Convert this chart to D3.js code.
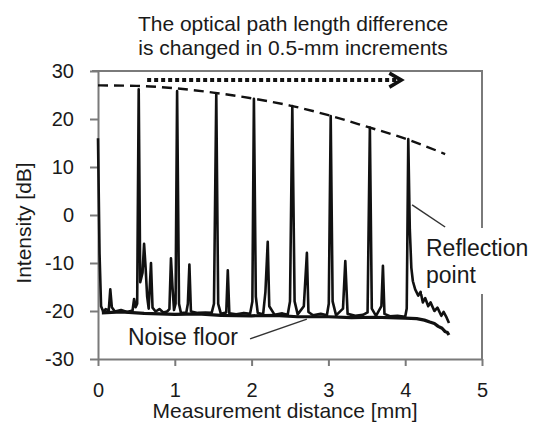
<!DOCTYPE html>
<html>
<head>
<meta charset="utf-8">
<script src="https://cdn.jsdelivr.net/npm/d3@7"></script>
<style>
  body { margin: 0; background: #fff; }
  text { font-family: "Liberation Sans", Arial, sans-serif; fill: #1a1a1a; }
</style>
</head>
<body>
<svg id="chart" width="533" height="423"></svg>
<script>
// axis ticks
const xTicks = [0, 1, 2, 3, 4, 5];
const yTicks = [-30, -20, -10, 0, 10, 20, 30];

// measured trace [distance mm, intensity dB]
const mainTrace = [
  [0, 16], [0.02, -8], [0.04, -19], [0.07, -20.2], [0.1, -19.6], [0.14, -19.9], [0.16, -15.5],
  [0.18, -19.2], [0.22, -20.1], [0.3, -19.8], [0.38, -20.2], [0.45, -19.9], [0.47, -17.5],
  [0.49, -19.2], [0.51, -18.5], [0.53, 26.2], [0.55, -14], [0.58, -12], [0.6, -6], [0.62, -11],
  [0.64, -17], [0.66, -19.5], [0.69, -10], [0.71, -19.3], [0.75, -20.1], [0.8, -19.6],
  [0.85, -20.3], [0.9, -20.1], [0.93, -19.6], [0.95, -9], [0.97, -15], [0.99, -19.8],
  [1.01, -18.5], [1.03, 25.8], [1.055, -18.5], [1.08, -20.4], [1.15, -20.3], [1.17, -18.5],
  [1.19, -10.3], [1.21, -20.1], [1.3, -20.4], [1.4, -20.3], [1.48, -20.4], [1.51, -18.5],
  [1.54, 25.2], [1.565, -18.5], [1.6, -20.6], [1.67, -20.3], [1.69, -11.5], [1.71, -20.5],
  [1.8, -20.7], [1.9, -20.4], [1.98, -20.6], [2.01, -18], [2.03, 24.2], [2.055, -17],
  [2.08, -20.4], [2.15, -20.7], [2.18, -16], [2.21, -5.6], [2.23, -19], [2.3, -20.8],
  [2.4, -20.5], [2.47, -20.8], [2.5, -18], [2.53, 22.7], [2.56, -18], [2.6, -20.7],
  [2.68, -19], [2.72, -7.9], [2.74, -20.2], [2.8, -20.9], [2.9, -20.6], [2.98, -20.9],
  [3.005, -18.5], [3.03, 20.6], [3.055, -18], [3.1, -20.9], [3.19, -19.5], [3.22, -9.6],
  [3.25, -20.6], [3.35, -21], [3.45, -20.8], [3.51, -20.3], [3.54, 18.2], [3.565, -19.5],
  [3.62, -21], [3.69, -19], [3.71, -10.6], [3.73, -20.6], [3.8, -21.1], [3.9, -21],
  [4.0, -21.2], [4.02, -19.5], [4.04, 15.8], [4.06, -3], [4.08, -11], [4.1, -13.8],
  [4.13, -15.5], [4.17, -16.8], [4.2, -16], [4.23, -18.2], [4.26, -17.3], [4.3, -19],
  [4.33, -18.2], [4.38, -20], [4.42, -19.3], [4.47, -21], [4.5, -20.2], [4.54, -21.4], [4.57, -22.5]
];

// second trace (noise floor, lower)
const floorTrace = [
  [0.05, -20.4], [0.3, -20.2], [0.6, -20.5], [1.0, -20.7], [1.3, -20.6], [1.6, -20.9],
  [2.0, -21.0], [2.3, -20.9], [2.6, -21.2], [3.0, -21.2], [3.3, -21.4], [3.6, -21.3],
  [4.0, -21.5], [4.15, -21.6], [4.25, -21.9], [4.32, -22.3], [4.38, -22.6], [4.43, -23.2],
  [4.48, -23.6], [4.52, -24.3], [4.55, -24.5], [4.57, -25]
];

// envelope of reflection peaks (dashed)
const envelope = [
  [0, 27], [0.5, 26.9], [1.0, 26.4], [1.5, 25.5], [2.0, 24.3], [2.5, 22.8],
  [3.0, 20.8], [3.5, 18.4], [4.0, 15.9], [4.52, 12.7]
];

// dotted arrow: from, to, level
const arrowMm = [0.64, 3.95];
const arrowDb = 28.1;

const titleLines = ["The optical path length difference", "is changed in 0.5-mm increments"];

const svg = d3.select("#chart");
const x = d3.scaleLinear().domain([0, 5]).range([98, 482]);
const y = d3.scaleLinear().domain([-30, 30]).range([359, 71]);

const grey = "#7a7a7a";

// frame (top and right)
svg.append("path")
  .attr("d", `M${x(0) - 6},${y(30)}H${x(5)}V${y(-30)}`)
  .attr("fill", "none").attr("stroke", grey).attr("stroke-width", 2);

// y axis
const yAxis = svg.append("g").attr("transform", `translate(${x(0)},0)`)
  .call(d3.axisLeft(y).tickValues(yTicks).tickSize(8).tickPadding(16).tickSizeOuter(0)
    .tickFormat(d => String(d)));
yAxis.select(".domain").attr("stroke", grey).attr("stroke-width", 2);
yAxis.selectAll(".tick line").attr("stroke", grey).attr("stroke-width", 2);
yAxis.selectAll(".tick text").attr("font-size", 20).attr("fill", "#1a1a1a")
  .attr("font-family", "Liberation Sans, Arial, sans-serif");

// x axis
const xAxis = svg.append("g").attr("transform", `translate(0,${y(-30)})`)
  .call(d3.axisBottom(x).tickValues(xTicks).tickSize(7).tickPadding(17).tickSizeOuter(0)
    .tickFormat(d => String(d)));
xAxis.select(".domain").attr("stroke", grey).attr("stroke-width", 2);
xAxis.selectAll(".tick line").attr("stroke", grey).attr("stroke-width", 2);
xAxis.selectAll(".tick text").attr("font-size", 20).attr("fill", "#1a1a1a")
  .attr("font-family", "Liberation Sans, Arial, sans-serif");

const line = d3.line().x(d => x(d[0])).y(d => y(d[1]));

svg.append("path").datum(floorTrace).attr("d", line)
  .attr("fill", "none").attr("stroke", "#111").attr("stroke-width", 3.2)
  .attr("stroke-linejoin", "round");
svg.append("path").datum(mainTrace).attr("d", line)
  .attr("fill", "none").attr("stroke", "#111").attr("stroke-width", 2.6)
  .attr("stroke-linejoin", "round");

// envelope
svg.append("path").datum(envelope)
  .attr("d", d3.line().x(d => x(d[0])).y(d => y(d[1])).curve(d3.curveMonotoneX))
  .attr("fill", "none").attr("stroke", "#111").attr("stroke-width", 2.4)
  .attr("stroke-dasharray", "10,6");

// dotted arrow
svg.append("line")
  .attr("x1", x(arrowMm[0])).attr("x2", x(arrowMm[1]) - 2)
  .attr("y1", y(arrowDb)).attr("y2", y(arrowDb))
  .attr("stroke", "#111").attr("stroke-width", 4).attr("stroke-dasharray", "4,3");
svg.append("path")
  .attr("d", `M${x(arrowMm[1]) - 12},${y(arrowDb) - 7}L${x(arrowMm[1])},${y(arrowDb)}L${x(arrowMm[1]) - 12},${y(arrowDb) + 7}`)
  .attr("fill", "none").attr("stroke", "#111").attr("stroke-width", 3.5);

// title
svg.selectAll(".title").data(titleLines).enter().append("text")
  .attr("x", 293).attr("y", (d, i) => 31 + i * 24)
  .attr("text-anchor", "middle").attr("font-size", 21).text(d => d);

// axis titles
svg.append("text").attr("x", 285).attr("y", 418).attr("text-anchor", "middle")
  .attr("font-size", 21).text("Measurement distance [mm]");
svg.append("text").attr("transform", "translate(31,223) rotate(-90)")
  .attr("text-anchor", "middle").attr("font-size", 21).text("Intensity [dB]");

// annotations
svg.append("rect").attr("x", 422).attr("y", 228).attr("width", 111).attr("height", 66).attr("fill", "#fff");
svg.append("line").attr("x1", x(4.09)).attr("y1", y(2.1)).attr("x2", x(4.52)).attr("y2", y(-2.5))
  .attr("stroke", "#333").attr("stroke-width", 1.5);
svg.append("text").attr("x", 426).attr("y", 256).attr("font-size", 23).text("Reflection");
svg.append("text").attr("x", 426).attr("y", 283).attr("font-size", 23).text("point");

svg.append("line").attr("x1", x(1.98)).attr("y1", y(-25.8)).attr("x2", x(2.72)).attr("y2", y(-21.7))
  .attr("stroke", "#333").attr("stroke-width", 1.5);
svg.append("text").attr("x", 128).attr("y", 345).attr("font-size", 23).text("Noise floor");
</script>
</body>
</html>
